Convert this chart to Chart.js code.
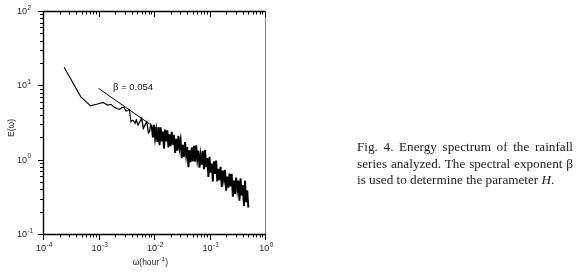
<!DOCTYPE html>
<html>
<head>
<meta charset="utf-8">
<script src="https://cdn.jsdelivr.net/npm/chart.js@4.4.1/dist/chart.umd.min.js"></script>
<style>
  html, body { margin:0; background:#fff; }
  #wrap { position:relative; width:580px; height:277px; overflow:hidden; }
  #wrap canvas { position:absolute; left:0; top:0; }
  .cap { position:absolute; left:357px; top:139px; width:216px;
         font:13.2px 'Liberation Serif','Times New Roman',serif; line-height:16.5px; color:#1a1a1a; }
  .cap div { text-align:justify; text-align-last:justify; white-space:nowrap; }
  .cap div.last { text-align-last:left; }
</style>
</head>
<body>
<div id="wrap">
  <canvas id="spec" width="580" height="277"></canvas>
  <div class="cap">
    <div>Fig. 4. Energy spectrum of the rainfall</div>
    <div>series analyzed. The spectral exponent β</div>
    <div class="last">is used to determine the parameter <i>H</i>.</div>
  </div>
</div>
<script>
/* ── Spectrum (frequency in hour^-1, energy) ── */
const omega = [
  0.00024, 0.00048, 0.00072, 0.00096, 0.0012, 0.00144, 0.00168, 0.00192, 0.00216, 0.0024,
  0.00264, 0.00288, 0.00312, 0.00336, 0.0036, 0.00384, 0.00408, 0.00432, 0.00456, 0.0048,
  0.00515, 0.0060, 0.0064, 0.0069, 0.0074,
  0.00794, 0.00832, 0.00871, 0.00912, 0.00955, 0.0100, 0.01047, 0.01096, 0.01148, 0.01202,
  0.01259, 0.01318, 0.0138, 0.01445, 0.01514, 0.01585, 0.0166, 0.01738, 0.0182, 0.01905, 0.01995,
  0.0209, 0.02188, 0.02291, 0.02399, 0.02512, 0.0263, 0.02754, 0.02884, 0.0302, 0.03162,
  0.03311, 0.03467, 0.03631, 0.03802, 0.03981, 0.04169, 0.04365, 0.04571, 0.04786, 0.05012,
  0.05248, 0.05495, 0.05754, 0.06026, 0.0631, 0.06607, 0.06918, 0.07244, 0.07586, 0.07943,
  0.08318, 0.0871, 0.0912, 0.0955, 0.1, 0.1047, 0.1096, 0.1148, 0.1202,
  0.1259, 0.1318, 0.138, 0.1445, 0.1514, 0.1585, 0.166, 0.1738, 0.182, 0.1905,
  0.1995, 0.2089, 0.2188, 0.2291, 0.2399, 0.2512, 0.263, 0.2754, 0.2884, 0.302,
  0.3162, 0.3311, 0.3467, 0.3631, 0.3802, 0.3981, 0.4169, 0.4365, 0.4571, 0.4786, 0.5012
];
const energy = [
  17.5, 7.0, 5.3, 5.6, 5.9, 5.43, 5.55, 5.06, 4.88, 4.75,
  5.02, 5.07, 4.51, 4.58, 4.75, 3.24, 3.41, 3.3, 3.08, 3.41,
  2.93, 3.6, 2.64, 2.95, 3.24,
  2.3, 2.40, 2.95, 2.75, 1.99, 2.94, 1.94, 2.50, 1.73, 2.74,
  1.57, 2.73, 1.76, 2.38, 1.40, 2.54, 1.76, 2.48, 1.46, 2.20, 1.52,
  2.36, 1.59, 2.15, 1.23, 1.91, 1.32, 2.09, 1.45, 1.82, 1.05,
  1.58, 1.09, 1.73, 1.14, 1.47, 0.79, 1.34, 0.925, 1.46, 0.944,
  1.53, 0.942, 1.56, 1.01, 1.33, 0.782, 1.15, 0.855, 1.32, 0.743,
  1.35, 0.794, 1.05, 0.587, 1.09, 0.675, 0.887, 0.511, 0.948,
  0.641, 0.970, 0.508, 0.752, 0.531, 0.804, 0.431, 0.714, 0.542, 0.730,
  0.383, 0.593, 0.419, 0.649, 0.438, 0.647, 0.317, 0.525, 0.347, 0.574,
  0.397, 0.524, 0.281, 0.560, 0.329, 0.454, 0.238, 0.520, 0.267, 0.385, 0.226
];

/* ── Fitted power law ── */
const fitOmega  = [0.001, 0.5];
const fitEnergy = [9.1, 0.36];
const betaLabel = 'β = 0.054';
const betaAt    = [0.00182, 9.5];

/* ── Axes ── */
const xMajor = [1e-4, 1e-3, 1e-2, 1e-1, 1];
const xExp   = ['-4', '-3', '-2', '-1', '0'];
const yMajor = [0.1, 1, 10, 100];
const yExp   = ['-1', '0', '1', '2'];

function minorsOf(majors) {
  const out = [];
  for (let i = 0; i < majors.length - 1; i++)
    for (let k = 2; k <= 9; k++) out.push(majors[i] * k);
  return out;
}

const FONT = "'Liberation Sans', Arial, sans-serif";

function drawPow(ctx, exp, x, y, align) {
  ctx.font = '9px ' + FONT;
  const wb = ctx.measureText('10').width;
  ctx.font = '6.5px ' + FONT;
  const we = ctx.measureText(exp).width;
  const left = align === 'center' ? x - (wb + we) / 2 : x;
  ctx.textAlign = 'left'; ctx.textBaseline = 'middle';
  ctx.font = '9px ' + FONT;
  ctx.fillText('10', left, y);
  ctx.font = '6.5px ' + FONT;
  ctx.fillText(exp, left + wb + 0.5, y - 3.5);
}

const framePlugin = {
  id: 'frame',
  afterDraw(chart) {
    const { ctx, chartArea: a, scales: { x, y } } = chart;
    const L = a.left + 0.5, R = a.right + 0.5, T = a.top + 0.5, B = a.bottom + 0.5;
    ctx.save();
    ctx.lineCap = 'butt';
    // right edge (light)
    ctx.strokeStyle = '#808080'; ctx.lineWidth = 1;
    ctx.beginPath(); ctx.moveTo(R, T); ctx.lineTo(R, B); ctx.stroke();
    // left, bottom, top
    ctx.strokeStyle = '#000'; ctx.lineWidth = 1.4;
    ctx.beginPath();
    ctx.moveTo(L, T); ctx.lineTo(L, B + 0.7);
    ctx.moveTo(L - 0.7, B); ctx.lineTo(R, B);
    ctx.moveTo(L - 0.7, T); ctx.lineTo(R, T);
    ctx.stroke();

    ctx.lineWidth = 1;
    ctx.beginPath();
    const tickX = (v, len) => {
      const px = Math.round(x.getPixelForValue(v)) + 0.5;
      ctx.moveTo(px, B); ctx.lineTo(px, B + len);
      ctx.moveTo(px, T); ctx.lineTo(px, T + len);
    };
    const tickY = (v, len) => {
      const py = Math.round(y.getPixelForValue(v)) + 0.5;
      ctx.moveTo(L, py); ctx.lineTo(L - len, py);
    };
    xMajor.forEach(v => tickX(v, 5.5));
    minorsOf(xMajor).forEach(v => tickX(v, 3));
    yMajor.forEach(v => tickY(v, 5.5));
    minorsOf(yMajor).forEach(v => tickY(v, 3.5));
    ctx.stroke();

    ctx.fillStyle = '#222';
    xMajor.forEach((v, i) => drawPow(ctx, xExp[i], x.getPixelForValue(v) + 1, B + 14, 'center'));
    yMajor.forEach((v, i) => drawPow(ctx, yExp[i], 17, y.getPixelForValue(v) + 0.5, 'left'));

    // axis titles
    ctx.textBaseline = 'middle';
    const t1 = 'ω(hour', t2 = ')';
    ctx.font = '8.5px ' + FONT; const w1 = ctx.measureText(t1).width;
    ctx.font = '6px ' + FONT;   const ws = ctx.measureText('-1').width;
    ctx.font = '8.5px ' + FONT; const w2 = ctx.measureText(t2).width;
    const sx = (a.left + a.right) / 2 - 4 - (w1 + ws + w2) / 2;
    const ty = B + 28;
    ctx.textAlign = 'left';
    ctx.fillText(t1, sx, ty);
    ctx.font = '6px ' + FONT; ctx.fillText('-1', sx + w1 + 0.3, ty - 3);
    ctx.font = '8.5px ' + FONT; ctx.fillText(t2, sx + w1 + ws + 0.8, ty);

    ctx.save();
    ctx.translate(12, 128);
    ctx.rotate(-Math.PI / 2);
    ctx.textAlign = 'center';
    ctx.font = '8.5px ' + FONT;
    ctx.fillText('E(ω)', 0, 0);
    ctx.restore();

    // beta annotation
    ctx.font = '9.5px ' + FONT;
    ctx.fillStyle = '#111';
    ctx.textAlign = 'left'; ctx.textBaseline = 'middle';
    ctx.fillText(betaLabel, x.getPixelForValue(betaAt[0]), y.getPixelForValue(betaAt[1]));
    ctx.restore();
  }
};

new Chart(document.getElementById('spec'), {
  type: 'line',
  data: {
    datasets: [
      { data: omega.map((w, i) => ({ x: w, y: energy[i] })),
        borderColor: '#000', borderWidth: 1.1, pointRadius: 0, tension: 0,
        // the high-frequency end is a dense, nearly solid band
        segment: { borderWidth: c => c.p0.parsed.x > 0.009 ? 1.9 : (c.p0.parsed.x > 0.004 ? 1.3 : 1.1) } },
      { data: fitOmega.map((w, i) => ({ x: w, y: fitEnergy[i] })),
        borderColor: '#000', borderWidth: 1, pointRadius: 0, tension: 0 }
    ]
  },
  options: {
    responsive: false, animation: false, devicePixelRatio: 1,
    layout: { padding: { left: 43, right: 315, top: 11, bottom: 43 } },
    plugins: { legend: { display: false }, tooltip: { enabled: false } },
    scales: {
      x: { type: 'logarithmic', min: 1e-4, max: 1, display: false },
      y: { type: 'logarithmic', min: 0.1, max: 100, display: false }
    }
  },
  plugins: [framePlugin]
});
</script>
</body>
</html>
